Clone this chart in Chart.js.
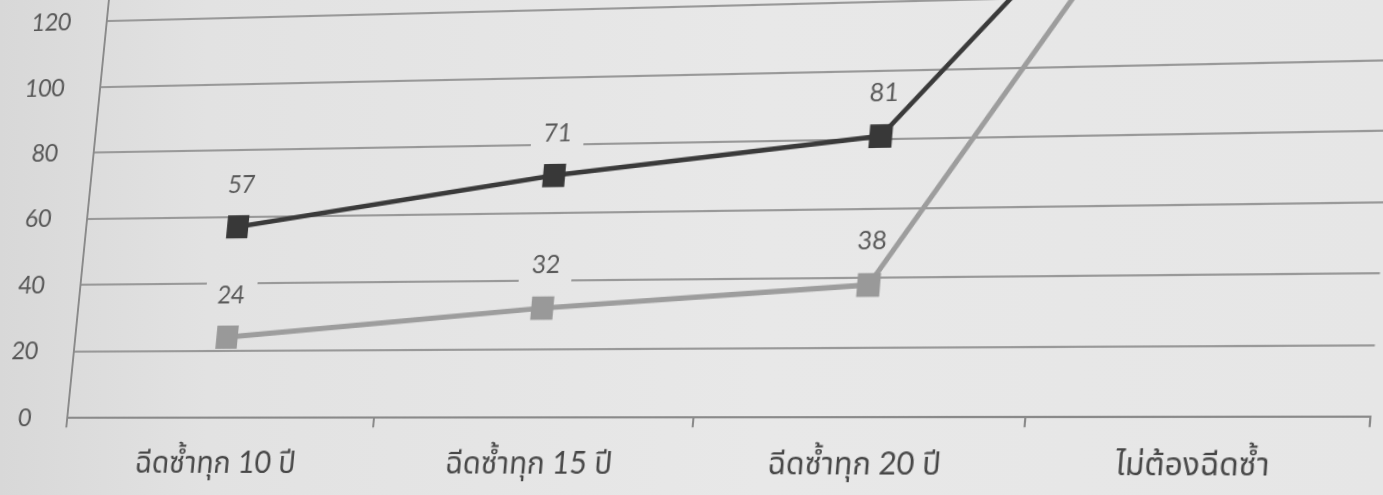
<!DOCTYPE html>
<html>
<head>
<meta charset="utf-8">
<script src="https://cdn.jsdelivr.net/npm/chart.js@4.4.1/dist/chart.umd.min.js"></script>
<style>
  html, body { margin: 0; padding: 0; width: 1383px; height: 495px; overflow: hidden; background: #e4e4e4; }
  #stage {
    position: relative; width: 1383px; height: 495px; overflow: hidden;
    background: linear-gradient(90deg, #d8d8d8 0%, #e2e2e2 15%, #e8e8e8 55%, #e6e6e6 100%);
  }
  #chart { position: absolute; left: 0; top: 0; transform-origin: 0 0; }
</style>
</head>
<body>
<div id="stage"><canvas id="chart" width="1400" height="770" style="width:1400px;height:770px"></canvas></div>
<script>
// Revaccination interval categories and the two survey series
const categories = ['ฉีดซ้ำทุก 10 ปี', 'ฉีดซ้ำทุก 15 ปี', 'ฉีดซ้ำทุก 20 ปี', 'ไม่ต้องฉีดซ้ำ'];
const seriesDark = [57, 71, 81, 190];
const seriesLight = [24, 32, 38, 188];
const yTicks = [0, 20, 40, 60, 80, 100, 120, 140, 160, 180, 200];

const FONT = "Lato, 'Noto Sans Thai', 'Noto Sans', 'DejaVu Sans', sans-serif";
const GRID = '#999999';
const AXIS = '#8a8a8a';

// Value labels: gridlines are cleared behind each label before the lines are drawn,
// and the numbers are written after the lines
function labelSpots(chart, cb) {
  chart.data.datasets.forEach((ds, i) => {
    chart.getDatasetMeta(i).data.forEach((pt, j) => cb(pt.x, pt.y - 40, String(ds.data[j])));
  });
}
const valueLabels = {
  id: 'valueLabels',
  beforeDatasetsDraw(chart) {
    const ctx = chart.ctx;
    labelSpots(chart, (x, y) => ctx.clearRect(x - 26, y - 17, 52, 34));
  },
  afterDatasetsDraw(chart) {
    const ctx = chart.ctx;
    ctx.save();
    ctx.font = '24px ' + FONT;
    ctx.textAlign = 'center';
    ctx.textBaseline = 'middle';
    ctx.fillStyle = '#5a5a5a';
    labelSpots(chart, (x, y, t) => ctx.fillText(t, x, y));
    ctx.restore();
  }
};

const chart = new Chart(document.getElementById('chart'), {
  type: 'line',
  data: {
    labels: categories,
    datasets: [
      {
        data: seriesDark,
        borderColor: '#3a3a3a',
        backgroundColor: '#383838',
        borderWidth: 4.5,
        pointStyle: 'rect',
        pointRadius: 15.5,
        pointBorderWidth: 0,
        tension: 0
      },
      {
        data: seriesLight,
        borderColor: '#9d9d9d',
        backgroundColor: '#999999',
        borderWidth: 5,
        pointStyle: 'rect',
        pointRadius: 15.5,
        pointBorderWidth: 0,
        tension: 0
      }
    ]
  },
  options: {
    responsive: false,
    animation: false,
    layout: { padding: { top: 20, right: 10, left: 10, bottom: 8 } },
    plugins: { legend: { display: false }, tooltip: { enabled: false } },
    scales: {
      x: {
        offset: true,
        grid: {
          offset: true,
          drawOnChartArea: true,
          color: (c) => (c.index === categories.length ? AXIS : 'rgba(0,0,0,0)'),
          lineWidth: 2,
          tickColor: AXIS,
          tickLength: 9,
          tickWidth: 2
        },
        border: { display: true, color: AXIS, width: 2 },
        ticks: { font: { size: 29, family: FONT }, color: '#474747', padding: 16, maxRotation: 0 }
      },
      y: {
        min: 0,
        max: 200,
        afterBuildTicks: (scale) => { scale.ticks = yTicks.map(v => ({ value: v })); },
        grid: { color: GRID, lineWidth: 2, drawTicks: false },
        border: { display: true, color: AXIS, width: 2 },
        ticks: { font: { size: 24, family: FONT }, color: '#555555', padding: 37 }
      }
    }
  },
  plugins: [valueLabels]
});

// Solve the 3x3 projective map taking four canvas points onto four stage points
function solveProjective(src, dst) {
  const A = [], b = [];
  for (let i = 0; i < 4; i++) {
    const [x, y] = src[i], [u, v] = dst[i];
    A.push([x, y, 1, 0, 0, 0, -u * x, -u * y]); b.push(u);
    A.push([0, 0, 0, x, y, 1, -v * x, -v * y]); b.push(v);
  }
  const n = 8;
  for (let c = 0; c < n; c++) {
    let p = c;
    for (let r = c + 1; r < n; r++) if (Math.abs(A[r][c]) > Math.abs(A[p][c])) p = r;
    [A[c], A[p]] = [A[p], A[c]]; [b[c], b[p]] = [b[p], b[c]];
    for (let r = 0; r < n; r++) {
      if (r === c) continue;
      const f = A[r][c] / A[c][c];
      for (let k = c; k < n; k++) A[r][k] -= f * A[c][k];
      b[r] -= f * b[c];
    }
  }
  return b.map((v, i) => v / A[i][i]);
}

// Tilt the drawn chart so the plot sits at a slight angle on the page
const area = chart.chartArea;
const y0 = chart.scales.y.getPixelForValue(0);
const y100 = chart.scales.y.getPixelForValue(100);
const h = solveProjective(
  [[area.left, y0], [area.right, y0], [area.left, y100], [area.right, y100]],
  [[67, 418], [1370, 417], [100, 87], [1395, 60]]
);
document.getElementById('chart').style.transform =
  `matrix3d(${h[0]},${h[3]},0,${h[6]},${h[1]},${h[4]},0,${h[7]},0,0,1,0,${h[2]},${h[5]},0,1)`;
</script>
</body>
</html>
